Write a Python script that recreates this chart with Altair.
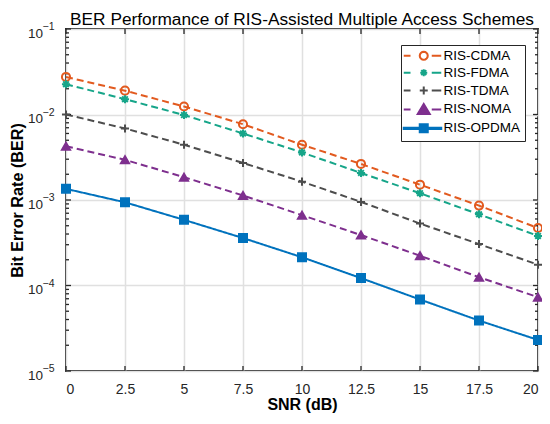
import math
import altair as alt
import pandas as pd

# ---- data ----
snr = [0, 2.5, 5, 7.5, 10, 12.5, 15, 17.5, 20]
cdma = [2.75e-2, 1.90e-2, 1.24e-2, 7.7e-3, 4.43e-3, 2.64e-3, 1.51e-3, 8.6e-4, 4.7e-4]
fdma = [2.26e-2, 1.51e-2, 9.86e-3, 6.0e-3, 3.6e-3, 2.07e-3, 1.20e-3, 6.8e-4, 3.8e-4]
tdma = [1.0e-2, 6.87e-3, 4.43e-3, 2.71e-3, 1.64e-3, 9.5e-4, 5.3e-4, 3.05e-4, 1.75e-4]
noma = [4.25e-3, 2.95e-3, 1.85e-3, 1.13e-3, 6.65e-4, 3.89e-4, 2.23e-4, 1.25e-4, 7.3e-5]
opdma = [1.35e-3, 9.4e-4, 5.86e-4, 3.59e-4, 2.14e-4, 1.22e-4, 6.86e-5, 3.89e-5, 2.31e-5]

series_names = ["RIS-CDMA", "RIS-FDMA", "RIS-TDMA", "RIS-NOMA", "RIS-OPDMA"]
series_values = [cdma, fdma, tdma, noma, opdma]
colors = ["#E25A1F", "#16A589", "#4D4D4D", "#7E2F8E", "#0072BD"]
fills = ["transparent", "transparent", "transparent", "#7E2F8E", "#0072BD"]

x_ticks = [0, 2.5, 5, 7.5, 10, 12.5, 15, 17.5, 20]
y_decades = [1e-5, 1e-4, 1e-3, 1e-2, 1e-1]
y_exponents = ["\u22125", "\u22124", "\u22123", "\u22122", "\u22121"]
y_minor = [m * d for d in y_decades[:-1] for m in range(2, 10)]

rows = []
for name, vals in zip(series_names, series_values):
    for x, v in zip(snr, vals):
        rows.append({"snr": x, "ber": v, "series": name})
df = pd.DataFrame(rows)

W, H = 472, 342
INK = "#262626"

xscale = alt.Scale(domain=[0, 20], nice=False, zero=False)
yscale = alt.Scale(type="log", domain=[1e-5, 1e-1], nice=False)

x_enc = alt.X("snr:Q", scale=xscale, title="SNR (dB)",
              axis=alt.Axis(values=x_ticks, labelExpr="'' + datum.value",
                            ticks=False, tickSize=0, domain=False, grid=True,
                            labelPadding=11, titlePadding=0, labelFontSize=14,
                            titleFontSize=16))
y_enc = alt.Y("ber:Q", scale=yscale, title="Bit Error Rate (BER)",
              axis=alt.Axis(values=y_decades, labelExpr="'10'",
                            ticks=False, tickSize=0, domain=False, grid=True,
                            labelPadding=23.5, labelOffset=4, titlePadding=2,
                            labelFontSize=13.5, titleFontSize=16.2))

dom = series_names
lines = alt.Chart(df).mark_line(strokeCap="butt").encode(
    x=x_enc, y=y_enc,
    stroke=alt.Stroke("series:N", scale=alt.Scale(domain=dom, range=colors), legend=None),
    strokeDash=alt.StrokeDash("series:N", scale=alt.Scale(domain=dom, range=[[7, 4]] * 4 + [[1, 0]]), legend=None),
    strokeWidth=alt.StrokeWidth("series:N", scale=alt.Scale(domain=dom, range=[2, 2, 2, 2, 3.2]), legend=None),
    order="snr:Q",
)

plus = "M-1,0H1M0,-1V1"
aster = "M-1,0H1M0,-1V1M-0.7,-0.7L0.7,0.7M-0.7,0.7L0.7,-0.7"
points = alt.Chart(df).mark_point(opacity=1, strokeWidth=2).encode(
    x="snr:Q", y="ber:Q",
    shape=alt.Shape("series:N", scale=alt.Scale(domain=dom, range=["circle", aster, plus, "triangle-up", "square"]), legend=None),
    stroke=alt.Stroke("series:N", scale=alt.Scale(domain=dom, range=colors), legend=None),
    fill=alt.Fill("series:N", scale=alt.Scale(domain=dom, range=fills), legend=None),
    size=alt.Size("series:N", scale=alt.Scale(domain=dom, range=[66, 64, 72, 110, 72]), legend=None),
)


# legend symbols: dashed line + marker (path units, marker centred at cx)
def ring(cx, r, n=16):
    pts = ["%.3f,%.3f" % (cx + r * math.cos(2 * math.pi * k / n), r * math.sin(2 * math.pi * k / n)) for k in range(n)]
    return "M" + "L".join(pts) + "Z"


cx = 2.4
dash = "M-1.6,0H-0.25M4.0,0H5.9"
lg_cdma = dash + ring(cx, 0.8)
lg_fdma = dash + "M1.7,0H3.1M2.4,-0.7V0.7M1.9,-0.5L2.9,0.5M1.9,0.5L2.9,-0.5"
lg_tdma = dash + "M1.6,0H3.2M2.4,-0.8V0.8"
lg_noma = dash + "M2.4,-1.1L3.6,0.9L1.2,0.9Z"
lg_opdma = "M-1.6,-0.12H5.9V0.12H-1.6ZM1.6,-0.8H3.2V0.8H1.6Z"

leg = alt.Legend(title=None, orient="none", legendX=335, legendY=16,
                 symbolSize=100, symbolStrokeWidth=2, labelOffset=25,
                 labelFontSize=13.5, labelColor="#000000", labelFont="Liberation Sans",
                 padding=4, rowPadding=0.9, fillColor="white", strokeColor=INK)

legend_layer = alt.Chart(df).transform_filter("false").mark_point(opacity=1, strokeWidth=2).encode(
    x="snr:Q", y="ber:Q",
    shape=alt.Shape("series:N", scale=alt.Scale(domain=dom, range=[lg_cdma, lg_fdma, lg_tdma, lg_noma, lg_opdma]), legend=leg),
    stroke=alt.Stroke("series:N", scale=alt.Scale(domain=dom, range=colors), legend=leg),
    fill=alt.Fill("series:N", scale=alt.Scale(domain=dom, range=fills), legend=leg),
)

# inward ticks (MATLAB style box) and decade exponents
xt = pd.DataFrame({"v": x_ticks})
yt = pd.DataFrame({"v": y_decades, "e": y_exponents})
ym = pd.DataFrame({"v": y_minor})
tick_style = dict(color=INK, strokeWidth=1.3)
xt_bottom = alt.Chart(xt).mark_rule(**tick_style).encode(x=alt.X("v:Q", scale=xscale), y=alt.value(H), y2=alt.value(H - 5))
xt_top = alt.Chart(xt).mark_rule(**tick_style).encode(x=alt.X("v:Q", scale=xscale), y=alt.value(0), y2=alt.value(5))
yt_left = alt.Chart(yt).mark_rule(**tick_style).encode(y=alt.Y("v:Q", scale=yscale), x=alt.value(0), x2=alt.value(5))
yt_right = alt.Chart(yt).mark_rule(**tick_style).encode(y=alt.Y("v:Q", scale=yscale), x=alt.value(W), x2=alt.value(W - 5))
ym_left = alt.Chart(ym).mark_rule(**tick_style).encode(y=alt.Y("v:Q", scale=yscale), x=alt.value(0), x2=alt.value(3))
ym_right = alt.Chart(ym).mark_rule(**tick_style).encode(y=alt.Y("v:Q", scale=yscale), x=alt.value(W), x2=alt.value(W - 3))
exps = alt.Chart(yt).mark_text(align="left", baseline="middle", fontSize=10.5, dy=-2,
                               font="Liberation Sans", color=INK).encode(
    y=alt.Y("v:Q", scale=yscale), x=alt.value(-23.5), text="e:N")

chart = alt.layer(
    lines, xt_bottom, xt_top, yt_left, yt_right, ym_left, ym_right, exps, points, legend_layer
).resolve_scale(
    shape="independent", stroke="independent", fill="independent"
).properties(
    width=W, height=H,
    title=alt.TitleParams("BER Performance of RIS-Assisted Multiple Access Schemes",
                          fontSize=17.3, fontWeight="normal", font="Liberation Sans",
                          color="#000000", anchor="middle", offset=6, dy=12),
    autosize=alt.AutoSizeParams(type="none"),
    padding={"left": 58, "top": 21, "right": 4, "bottom": 45},
).configure_view(
    stroke=INK, strokeWidth=2
).configure_axis(
    labelFont="Liberation Sans", labelColor=INK,
    titleFont="Liberation Sans", titleFontWeight="bold", titleColor="#000000",
    gridColor="#e0e0e0", gridWidth=1.5,
)

chart.save("out.html", embed_options={"renderer": "svg", "actions": False})
